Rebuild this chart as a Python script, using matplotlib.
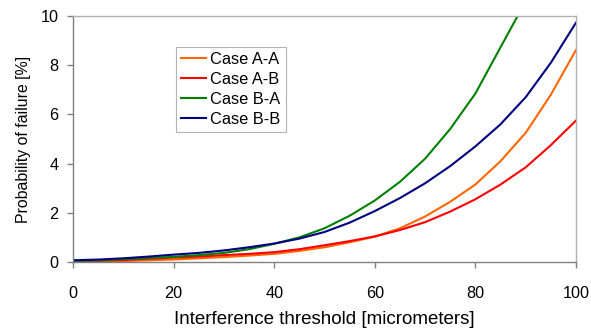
import matplotlib
matplotlib.use("Agg")
import matplotlib.pyplot as plt

plt.rcParams['font.family'] = ['Liberation Sans', 'DejaVu Sans']

x = [0, 5, 10, 15, 20, 25, 30, 35, 40, 45, 50, 55, 60, 65, 70, 75, 80, 85, 90, 95, 100]
case_aa = [0.01, 0.02, 0.04, 0.07, 0.10, 0.15, 0.20, 0.26, 0.33, 0.45, 0.60, 0.80, 1.03,
           1.37, 1.85, 2.45, 3.15, 4.10, 5.25, 6.80, 8.62]
case_ab = [0.02, 0.05, 0.08, 0.13, 0.18, 0.22, 0.28, 0.33, 0.40, 0.52, 0.68, 0.85, 1.04,
           1.30, 1.62, 2.05, 2.55, 3.15, 3.85, 4.75, 5.75]
x_ba = [0, 5, 10, 15, 20, 25, 30, 35, 40, 45, 50, 55, 60, 65, 70, 75, 80, 85, 90]
case_ba = [0.04, 0.07, 0.11, 0.16, 0.21, 0.28, 0.37, 0.52, 0.74, 1.00, 1.37, 1.88, 2.50,
           3.26, 4.20, 5.41, 6.85, 8.73, 10.6]
case_bb = [0.07, 0.10, 0.15, 0.22, 0.30, 0.37, 0.47, 0.60, 0.75, 0.95, 1.22, 1.60, 2.07,
           2.60, 3.20, 3.90, 4.70, 5.60, 6.70, 8.10, 9.73]

labels = ["Case A-A", "Case A-B", "Case B-A", "Case B-B"]
colors = ["#FF6600", "#FF0000", "#008000", "#000080"]

fig = plt.figure(figsize=(5.91, 3.30), dpi=100)
ax = fig.add_axes([73/591, 1-262/330, (576-73)/591, (262-16)/330])

ax.plot(x, case_aa, color=colors[0], lw=1.5, label=labels[0])
ax.plot(x, case_ab, color=colors[1], lw=1.5, label=labels[1])
ax.plot(x_ba, case_ba, color=colors[2], lw=1.5, label=labels[2])
ax.plot(x, case_bb, color=colors[3], lw=1.5, label=labels[3])

ax.set_xlim(0, 100)
ax.set_ylim(0, 10)
ax.set_xticks([0, 20, 40, 60, 80, 100])
ax.set_yticks([0, 2, 4, 6, 8, 10])

for s in ['left', 'bottom']:
    ax.spines[s].set_color('#808080')
    ax.spines[s].set_linewidth(1.0)
for s in ['top', 'right']:
    ax.spines[s].set_color('#b0b0b0')
    ax.spines[s].set_linewidth(1.0)

ax.tick_params(direction='out', length=4, width=1, color='#808080',
               labelsize=11.7)
ax.tick_params(axis='x', pad=13.5)
ax.tick_params(axis='y', pad=6.5)
ax.set_xlabel("Interference threshold [micrometers]", fontsize=13.5)
ax.set_ylabel("Probability of failure [%]", fontsize=11.4)
ax.xaxis.label.set_va('top')
ax.xaxis.set_label_coords(0.5, -(311-262)/246)
ax.yaxis.set_label_coords(-(73-31)/503, 0.5)

leg = ax.legend(loc='upper left', bbox_to_anchor=(176/591, 1-47/330),
                bbox_transform=fig.transFigure, fontsize=11.8, frameon=True,
                fancybox=False, edgecolor='#a0a0a0', handlelength=1.55,
                handletextpad=0.25, labelspacing=0.3, borderpad=0.3,
                borderaxespad=0)
leg.get_frame().set_linewidth(0.8)

fig.savefig("out.png", dpi=100)
